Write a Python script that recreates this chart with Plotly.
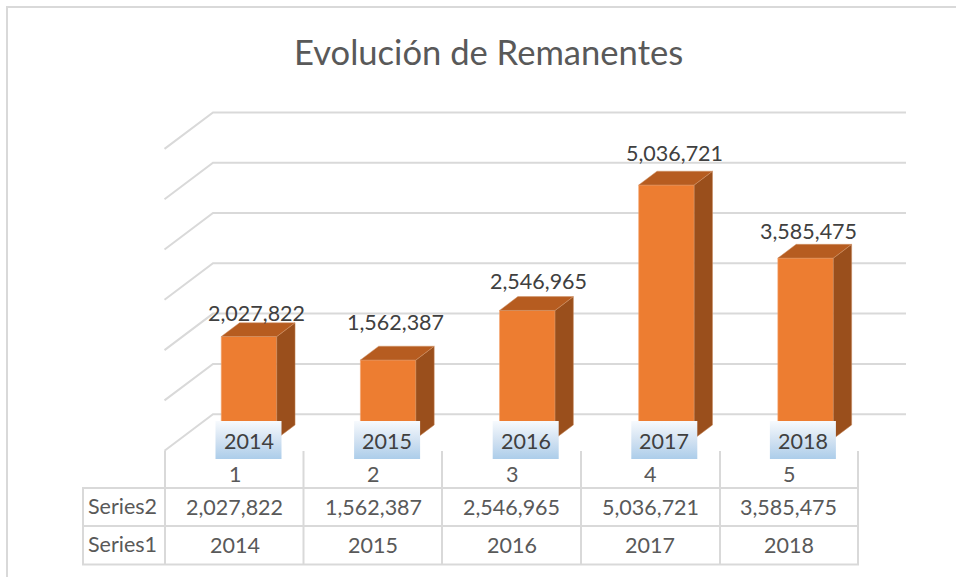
import plotly.graph_objects as go

TITLE = "Evolución de Remanentes"
years = [2014, 2015, 2016, 2017, 2018]
positions = [1, 2, 3, 4, 5]
remanentes = [2027822, 1562387, 2546965, 5036721, 3585475]
grid_values = [0, 1000000, 2000000, 3000000, 4000000, 5000000, 6000000]

W, H = 956, 577
# axis calibration: pixel <-> data
X0, XS = 249.0, 139.15
Y0, YS = 438.7, 5.037e-5
def dx(px): return px / XS          # pixel length -> x units
def dy(px): return px / YS          # pixel length -> y units
def X(px): return 1 + (px - X0) / XS
def Y(py): return (Y0 - py) / YS
def P(py): return 1 - py / H

BAR_W = 55.5 / XS
DEPTH_X, DEPTH_Y = dx(18.3), dy(13.8)
FS = 21.5
GRID = "#D9D9D9"
TXT = "#595959"

fig = go.Figure()
shapes = []

# gridlines: side wall + back wall, beneath the bars
gs = 50.3 / 50.37
for v in grid_values:
    yb = Y(414.2) + v * gs
    yf = yb - dy(36.5)
    shapes.append(dict(type="path", xref="x", yref="y", layer="below",
                       path=f"M {X(164.5)} {yf} L {X(213)} {yb} L {X(906)} {yb}",
                       line=dict(color=GRID, width=2)))

# front faces
fig.add_trace(go.Bar(x=positions, y=remanentes, width=BAR_W, marker=dict(color="#ED7D31", line=dict(color="#F2A26E", width=0.6)),
                     hoverinfo="skip", showlegend=False))

# side and top faces
for p, v in zip(positions, remanentes):
    r = p + BAR_W / 2
    l = p - BAR_W / 2
    fig.add_trace(go.Scatter(x=[r, r + DEPTH_X, r + DEPTH_X, r, r], y=[0, DEPTH_Y, v + DEPTH_Y, v, 0],
                             mode="lines", fill="toself", fillcolor="#9A4F1C", line=dict(color="#C98A5E", width=0.5),
                             hoverinfo="skip", showlegend=False))
    fig.add_trace(go.Scatter(x=[l, l + DEPTH_X, r + DEPTH_X, r, l], y=[v, v + DEPTH_Y, v + DEPTH_Y, v, v],
                             mode="lines", fill="toself", fillcolor="#B65C20", line=dict(color="#D19468", width=0.5),
                             hoverinfo="skip", showlegend=False))

# blue category label boxes
box_pitch = 138.6
for i, p in enumerate(positions):
    xc = X(248.5 + i * box_pitch)
    x0, x1 = xc - dx(33), xc + dx(33)
    y0, y1 = Y(459), Y(421)
    fig.add_trace(go.Scatter(x=[x0, x1, x1, x0, x0], y=[y0, y0, y1, y1, y0], mode="lines", line=dict(width=0, color="rgba(0,0,0,0)"),
                             fill="toself", fillcolor="#C5DAEE",
                             fillgradient=dict(type="vertical", colorscale=[[0, "#ACCDEA"], [0.45, "#CFE0F1"], [1, "#F7FAFD"]]),
                             hoverinfo="skip", showlegend=False))

# data table lines
def ln(x0, y0, x1, y1, w=2):
    shapes.append(dict(type="line", xref="x", yref="paper", x0=X(x0), x1=X(x1), y0=P(y0), y1=P(y1),
                       line=dict(color=GRID, width=w), layer="below"))
for px in [165, 303.5, 442, 581, 720, 858]:
    ln(px, 451, px, 565)
ln(83, 488, 83, 565)
for py in [488, 526, 564.5]:
    ln(82, py, 859, py)
# chart frame
ln(7, 7, 956, 7)
ln(7, 6, 7, 577)

ann = []
def txt(px, py, s, size=FS, color=TXT, anchor="center"):
    ann.append(dict(xref="x", yref="paper", x=X(px), y=P(py), text=s, showarrow=False, xanchor=anchor, yanchor="middle",
                    font=dict(family="Lato", size=size, color=color)))

txt(488, 51, TITLE, size=34.6)
# data labels
label_dx = [7, 7, 11.5, 8.5, 2.5]
label_dy = [23.7, 38, 29, 32, 27]
for p, v, ox, oy in zip(positions, remanentes, label_dx, label_dy):
    ann.append(dict(xref="x", yref="y", x=p + dx(ox), y=v + dy(oy), text=f"{v:,}", showarrow=False,
                    xanchor="center", yanchor="middle", font=dict(family="Lato", size=FS, color="#404040")))
for i, yr in enumerate(years):
    txt(248.5 + i * box_pitch, 441, str(yr), color="#404040")
# table text
for i, (p, yr, v) in enumerate(zip(positions, years, remanentes)):
    cx = 234.5 + i * 138.6
    txt(cx, 474, str(p))
    txt(cx, 507, f"{v:,}")
    txt(cx, 545, str(yr))
txt(86, 506, "Series2", anchor="left")
txt(86, 544, "Series1", anchor="left")

fig.update_layout(
    width=W, height=H, margin=dict(l=0, r=0, t=0, b=0), paper_bgcolor="white", plot_bgcolor="white",
    showlegend=False, shapes=shapes, annotations=ann,
    xaxis=dict(range=[X(0), X(W)], visible=False, fixedrange=True),
    yaxis=dict(range=[Y(H), Y(0)], visible=False, fixedrange=True),
)
fig.write_html("out.html", config=dict(displayModeBar=False),
               post_script="document.body.style.margin='0';document.body.style.overflow='hidden';")
